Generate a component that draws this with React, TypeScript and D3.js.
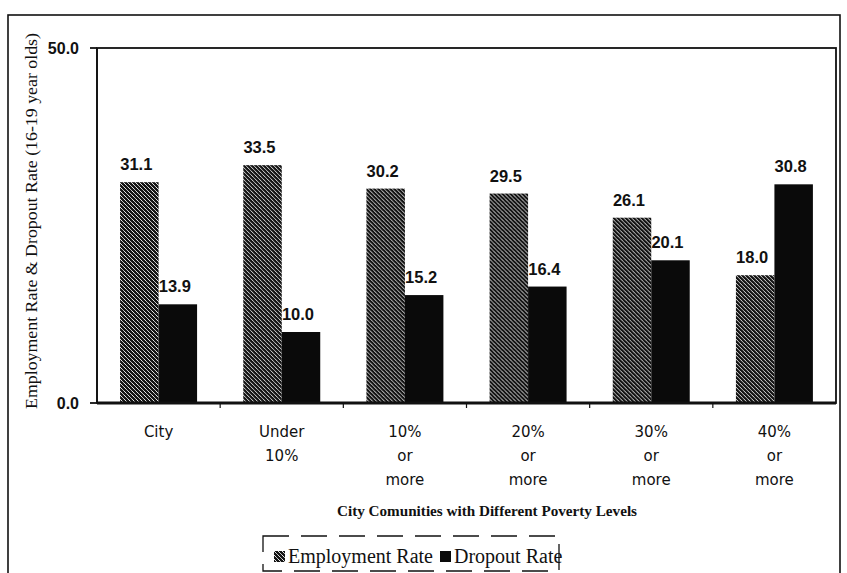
import * as d3 from 'd3';
import React, { useEffect, useRef } from 'react';

const categories = ['City', 'Under|10%', '10%|or|more', '20%|or|more', '30%|or|more', '40%|or|more'];
const employment = [31.1, 33.5, 30.2, 29.5, 26.1, 18.0];
const dropout = [13.9, 10.0, 15.2, 16.4, 20.1, 30.8];
const seriesNames = ['Employment Rate', 'Dropout Rate'];
const yTicks = [0, 50];

const width = 847;
const height = 573;
const margin = { top: 48, right: 11, bottom: 170, left: 97 };

const App: React.FC = () => {
  const ref = useRef<SVGSVGElement>(null);
  useEffect(() => {
    const svg = d3.select(ref.current);
    svg.selectAll('*').remove();

    const defs = svg.append('defs');
    const pat = defs
      .append('pattern')
      .attr('id', 'hatch')
      .attr('patternUnits', 'userSpaceOnUse')
      .attr('width', 4)
      .attr('height', 4);
    pat.append('rect').attr('width', 4).attr('height', 4).attr('fill', '#151515');
    pat
      .append('path')
      .attr('d', 'M-1,-1 l2,2 M0,0 l4,4 M3,3 l2,2')
      .attr('stroke', '#eeeeee')
      .attr('stroke-width', 0.8);

    // outer frame
    svg
      .append('rect')
      .attr('x', 8)
      .attr('y', 15)
      .attr('width', 832)
      .attr('height', 580)
      .attr('fill', 'none')
      .attr('stroke', '#111')
      .attr('stroke-width', 1.6);

    const x0 = d3
      .scaleBand()
      .domain(categories)
      .range([margin.left, width - margin.right])
      .paddingInner(0)
      .paddingOuter(0);
    const x1 = d3
      .scaleBand()
      .domain(seriesNames)
      .range([0, x0.bandwidth()])
      .paddingOuter(0.6)
      .paddingInner(0);
    const y = d3
      .scaleLinear()
      .domain([0, 50])
      .range([height - margin.bottom, margin.top]);

    const [px0, px1] = x0.range();
    const [py0, py1] = y.range();

    // plot frame
    svg
      .append('rect')
      .attr('x', px0)
      .attr('y', py1)
      .attr('width', px1 - px0)
      .attr('height', py0 - py1)
      .attr('fill', 'none')
      .attr('stroke', '#111')
      .attr('stroke-width', 1.8);

    const groups = svg
      .append('g')
      .selectAll('g')
      .data(categories)
      .join('g')
      .attr('transform', (d) => `translate(${x0(d)},0)`);

    groups.each(function (c, i) {
      const g = d3.select(this);
      const vals = [employment[i], dropout[i]];
      vals.forEach((v, k) => {
        const bx = x1(seriesNames[k]) || 0;
        g.append('rect')
          .attr('x', bx)
          .attr('y', y(v))
          .attr('width', x1.bandwidth())
          .attr('height', y(0) - y(v))
          .attr('fill', k === 0 ? 'url(#hatch)' : '#0a0a0a');
        g.append('text')
          .attr('x', bx + x1.bandwidth() / 2 - 3)
          .attr('y', y(v) - 12)
          .attr('text-anchor', 'middle')
          .attr('font-family', 'Liberation Sans, Arial, sans-serif')
          .attr('font-weight', 'bold')
          .attr('font-size', 16.5)
          .attr('fill', '#111')
          .text(v.toFixed(1));
      });
    });

    // x axis
    const xAxis = svg.append('g').attr('transform', `translate(0,${py0})`);
    xAxis
      .append('line')
      .attr('x1', px0)
      .attr('x2', px1)
      .attr('stroke', '#111')
      .attr('stroke-width', 2.8);
    xAxis
      .selectAll('line.tick')
      .data(categories.slice(1))
      .join('line')
      .attr('class', 'tick')
      .attr('x1', (d) => x0(d) || 0)
      .attr('x2', (d) => x0(d) || 0)
      .attr('y1', 0)
      .attr('y2', 5)
      .attr('stroke', '#111')
      .attr('stroke-width', 1.2);
    xAxis
      .selectAll('text')
      .data(categories)
      .join('text')
      .attr('x', (d) => (x0(d) || 0) + x0.bandwidth() / 2)
      .attr('y', 34)
      .attr('text-anchor', 'middle')
      .attr('font-family', 'DejaVu Sans, sans-serif')
      .attr('font-size', 15)
      .attr('fill', '#111')
      .each(function (d) {
        const t = d3.select(this);
        d.split('|').forEach((line, j) => {
          t.append('tspan')
            .attr('x', (x0(d) || 0) + x0.bandwidth() / 2)
            .attr('dy', j === 0 ? 0 : 24)
            .text(line);
        });
      });

    // y axis
    const yAxis = svg.append('g');
    yAxis
      .append('line')
      .attr('x1', px0)
      .attr('x2', px0)
      .attr('y1', py0)
      .attr('y2', py1)
      .attr('stroke', '#111')
      .attr('stroke-width', 1.6);
    yAxis
      .selectAll('line.tick')
      .data(yTicks)
      .join('line')
      .attr('class', 'tick')
      .attr('x1', px0 - 7)
      .attr('x2', px0)
      .attr('y1', (d) => y(d))
      .attr('y2', (d) => y(d))
      .attr('stroke', '#111')
      .attr('stroke-width', 1.8);
    yAxis
      .selectAll('text')
      .data(yTicks)
      .join('text')
      .attr('x', px0 - 18)
      .attr('y', (d) => y(d) + 6)
      .attr('text-anchor', 'end')
      .attr('font-family', 'Liberation Sans, Arial, sans-serif')
      .attr('font-weight', 'bold')
      .attr('font-size', 16)
      .attr('fill', '#111')
      .text((d) => d.toFixed(1));

    svg
      .append('text')
      .attr('transform', `translate(37,221) rotate(-90)`)
      .attr('text-anchor', 'middle')
      .attr('font-family', 'Liberation Serif, serif')
      .attr('font-size', 16)
      .attr('textLength', 376)
      .attr('lengthAdjust', 'spacingAndGlyphs')
      .attr('fill', '#111')
      .text('Employment Rate & Dropout Rate (16-19 year olds)');

    svg
      .append('text')
      .attr('x', 487)
      .attr('y', 516)
      .attr('text-anchor', 'middle')
      .attr('font-family', 'Liberation Serif, serif')
      .attr('font-weight', 'bold')
      .attr('font-size', 14)
      .attr('textLength', 300)
      .attr('lengthAdjust', 'spacingAndGlyphs')
      .attr('fill', '#111')
      .text('City Comunities with Different Poverty Levels');

    // legend
    const legend = svg.append('g').attr('transform', 'translate(263,536)');
    legend
      .append('rect')
      .attr('x', 0)
      .attr('y', 0)
      .attr('width', 296)
      .attr('height', 35)
      .attr('fill', 'none')
      .attr('stroke', '#111')
      .attr('stroke-width', 1.3)
      .attr('stroke-dasharray', '26,12');
    const items = [
      { name: seriesNames[0], fill: 'url(#hatch)', x: 11 },
      { name: seriesNames[1], fill: '#0a0a0a', x: 177 },
    ];
    items.forEach((it) => {
      legend
        .append('rect')
        .attr('x', it.x)
        .attr('y', 15)
        .attr('width', 11)
        .attr('height', 11)
        .attr('fill', it.fill);
      legend
        .append('text')
        .attr('x', it.x + 14)
        .attr('y', 27)
        .attr('font-family', 'Liberation Serif, serif')
        .attr('font-size', 20)
        .attr('fill', '#111')
        .text(it.name);
    });
  }, []);
  return (
    <div className="chart-bars">
      <svg
        ref={ref}
        width={width}
        height={height}
        style={{ position: 'absolute', left: 0, top: 0, background: '#fff' }}
      ></svg>
    </div>
  );
};

export default App;
